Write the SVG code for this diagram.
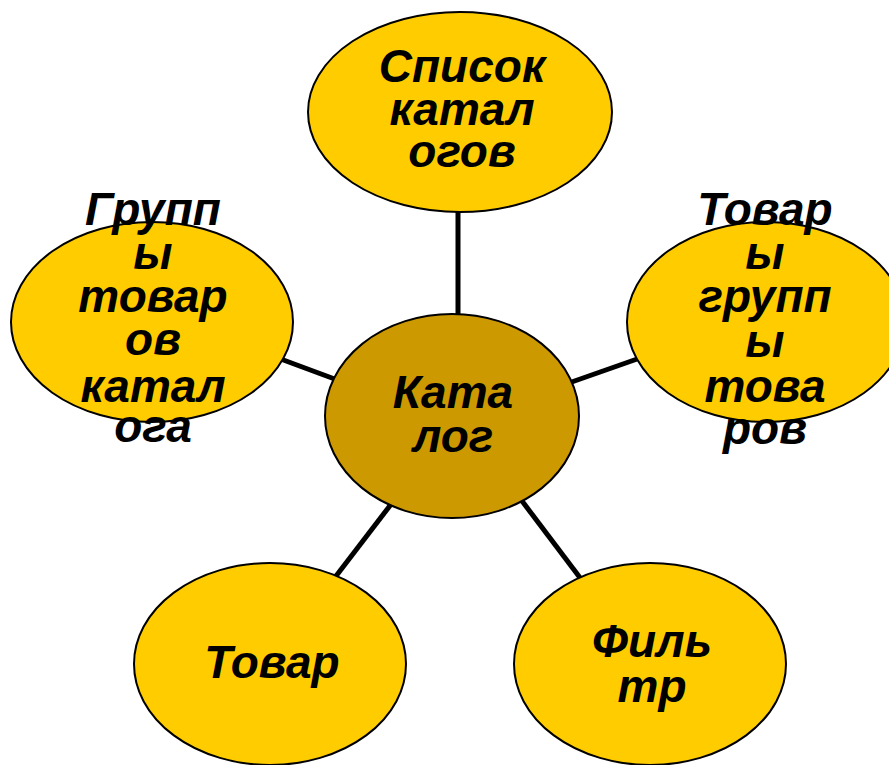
<svg xmlns="http://www.w3.org/2000/svg" width="889" height="765" viewBox="0 0 889 765">
<style>
.n{fill:#FFCC00;stroke:#000;stroke-width:2}
.c{fill:#CC9900;stroke:#000;stroke-width:2}
.t{font-family:"Liberation Sans",Arial,sans-serif;font-weight:bold;font-style:italic;font-size:46px;fill:#000;text-anchor:middle}
.e{stroke:#000;stroke-width:5;fill:none}
</style>
<rect width="889" height="765" fill="#fff"/>
<g id="connectors">
<line class="e" x1="458" y1="205" x2="458" y2="320"/>
<line class="e" x1="278" y1="358" x2="340" y2="381"/>
<line class="e" x1="566" y1="384" x2="640" y2="358"/>
<line class="e" x1="392" y1="503" x2="333" y2="580"/>
<line class="e" x1="519" y1="497" x2="584" y2="583"/>
</g>
<g id="n-top">
<ellipse class="n" cx="460" cy="112" rx="152" ry="100"/>
<text class="t" x="462" y="82">Список</text>
<text class="t" x="462" y="125">катал</text>
<text class="t" x="462" y="167">огов</text>
</g>
<g id="n-left">
<ellipse class="n" cx="152" cy="322" rx="141" ry="100"/>
<text class="t" x="153" y="225">Групп</text>
<text class="t" x="153" y="269">ы</text>
<text class="t" x="153" y="312">товар</text>
<text class="t" x="153" y="355">ов</text>
<text class="t" x="153" y="402">катал</text>
<text class="t" x="153" y="442">ога</text>
</g>
<g id="n-right">
<ellipse class="n" cx="766" cy="322" rx="139" ry="100"/>
<text class="t" x="765" y="225">Товар</text>
<text class="t" x="765" y="269">ы</text>
<text class="t" x="765" y="312">групп</text>
<text class="t" x="765" y="357">ы</text>
<text class="t" x="765" y="402">това</text>
<text class="t" x="765" y="444">ров</text>
</g>
<g id="n-center">
<ellipse class="c" cx="452" cy="416" rx="127" ry="102"/>
<text class="t" x="453" y="408">Ката</text>
<text class="t" x="453" y="452">лог</text>
</g>
<g id="n-bl">
<ellipse class="n" cx="270" cy="664" rx="136" ry="101"/>
<text class="t" x="272" y="678">Товар</text>
</g>
<g id="n-br">
<ellipse class="n" cx="650" cy="664" rx="136" ry="101"/>
<text class="t" x="652" y="657">Филь</text>
<text class="t" x="652" y="702">тр</text>
</g>
</svg>
